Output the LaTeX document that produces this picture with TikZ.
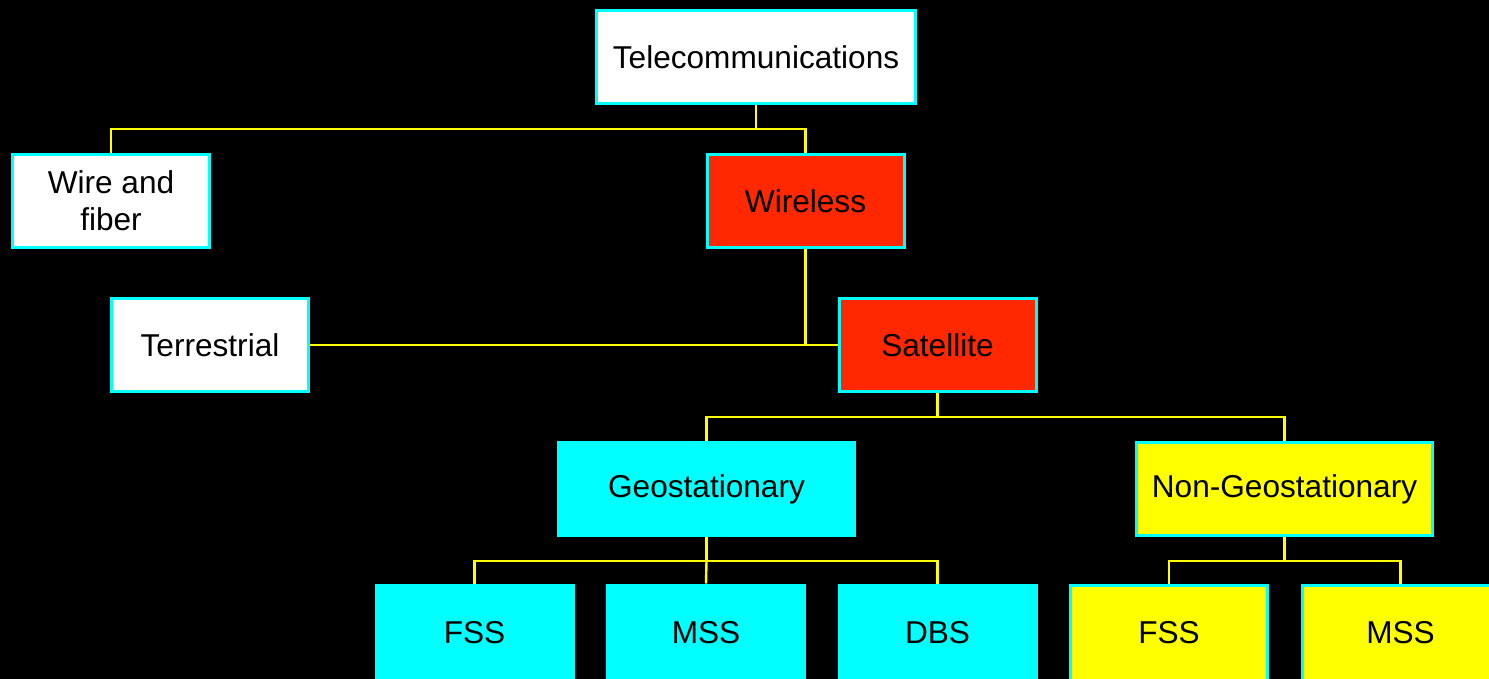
\documentclass[tikz,border=0pt]{standalone}
\usepackage{fontspec}
\setmainfont{Liberation Sans}
\definecolor{boxred}{RGB}{255,40,0}
\definecolor{boxcyan}{RGB}{0,255,255}
\definecolor{boxyel}{RGB}{255,255,0}
\definecolor{linkyel}{RGB}{255,255,0}
\tikzset{
  tbox/.style={draw=boxcyan, line width=1.5pt, minimum width=98.5pt, minimum height=46.5pt,
    inner sep=0pt, align=center, font=\fontsize{15.8}{18.5}\selectfont, text=black},
  whitebox/.style={tbox, fill=white},
  redbox/.style={tbox, fill=boxred},
  cyanbox/.style={tbox, fill=boxcyan},
  yelbox/.style={tbox, fill=boxyel},
  lowbox/.style={minimum height=48pt},
  conn/.style={draw=linkyel, line width=1.2pt},
}
\begin{document}
\begin{tikzpicture}[x=0.5pt,y=-0.5pt]
\fill[black] (0,0) rectangle (1489,679);
\useasboundingbox (0,0) rectangle (1489,679);
\node[whitebox, minimum width=159.5pt] (tel) at (756,57) {Telecommunications};
\node[whitebox] (wire) at (111,201) {Wire and\\fiber};
\node[redbox] (wls) at (805.5,201) {Wireless};
\node[whitebox] (ter) at (210,345) {Terrestrial};
\node[redbox] (sat) at (937.5,345) {Satellite};
\node[cyanbox, minimum width=148pt] (geo) at (706.5,489) {Geostationary};
\node[yelbox, minimum width=148pt] (ngeo) at (1284.5,489) {Non-Geostationary};
\node[cyanbox, lowbox] (f1) at (474.5,633) {FSS};
\node[cyanbox, lowbox] (m1) at (706,633) {MSS};
\node[cyanbox, lowbox] (d1) at (937.5,633) {DBS};
\node[yelbox, lowbox] (f2) at (1169,633) {FSS};
\node[yelbox, lowbox] (m2) at (1400.5,633) {MSS};
\draw[conn] (tel.south) -- ++(0,24) coordinate (tj) -| (wire.north);
\draw[conn] (tj) -| (wls.north);
\draw[conn] (wls.south) |- (sat.west);
\draw[conn] (ter.east) -- (sat.west);
\draw[conn] (sat.south) -- ++(0,24) coordinate (sj) -| (geo.north);
\draw[conn] (sj) -| (ngeo.north);
\draw[conn] (geo.south) -- ++(0,24) coordinate (gj) -| (f1.north);
\draw[conn] (gj) -| (d1.north);
\draw[conn] (gj) -- (m1.north);
\draw[conn] (ngeo.south) -- ++(0,24) coordinate (nj) -| (f2.north);
\draw[conn] (nj) -| (m2.north);
\end{tikzpicture}
\end{document}
